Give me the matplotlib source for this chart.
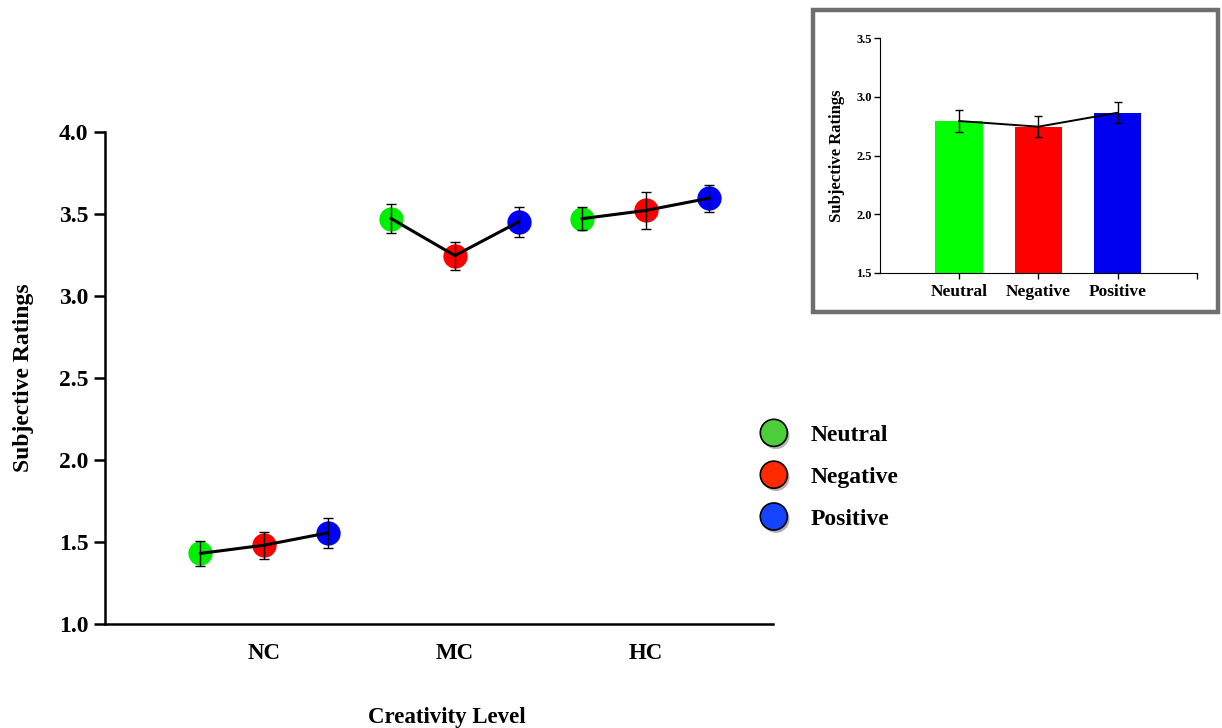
"""Subjective ratings by creativity level and emotion."""

import matplotlib.pyplot as plt
import matplotlib.patheffects as pe
import numpy as np
from matplotlib.lines import Line2D
from matplotlib.patches import Rectangle

plt.rcParams["font.family"] = "Liberation Serif"
plt.rcParams["font.weight"] = "bold"

# main panel data
levels = ["NC", "MC", "HC"]
emotions = ["Neutral", "Negative", "Positive"]
means = [
    [1.43, 1.48, 1.555],  # NC
    [3.47, 3.245, 3.45],  # MC
    [3.47, 3.52, 3.595],  # HC
]
sems = [
    [0.076, 0.083, 0.09],
    [0.09, 0.085, 0.09],
    [0.07, 0.11, 0.083],
]

# inset data (collapsed over creativity level)
inset_means = [2.794, 2.746, 2.865]
inset_sems = [0.09, 0.088, 0.09]

point_colors = ["#00ee00", "#ff0000", "#0000ff"]
bar_colors = ["#00ff00", "#ff0000", "#0000f0"]
legend_colors = ["#4ccd3a", "#ff2a00", "#1444ff"]

fig = plt.figure(figsize=(12.22, 7.28), dpi=100)

# main axes
ax = fig.add_axes([0.0859, 0.1429, 0.5467, 0.6762])
for g, level in enumerate(levels):
    xs = np.arange(3) + 3 * g
    for k in range(3):
        ax.plot(xs[k], means[g][k], "o", ms=17.5, color=point_colors[k],
                mec="none", zorder=2)
    ax.plot(xs, means[g], color="black", lw=2.2, zorder=3)
    ax.errorbar(xs, means[g], yerr=sems[g], fmt="none", ecolor="black",
                elinewidth=1.0, capsize=3.3, capthick=1.0, zorder=4)

ax.set_xlim(-1.5, 9)
ax.set_ylim(1.0, 4.0)
ax.set_yticks([1.0, 1.5, 2.0, 2.5, 3.0, 3.5, 4.0])
ax.set_yticklabels([f"{v:.1f}" for v in [1.0, 1.5, 2.0, 2.5, 3.0, 3.5, 4.0]])
ax.set_xticks([1, 4, 7])
ax.set_xticklabels(levels)
ax.tick_params(axis="x", length=0, pad=14, labelsize=16.5)
ax.tick_params(axis="y", length=8, width=1.8, pad=4, labelsize=17)
for s in ["top", "right"]:
    ax.spines[s].set_visible(False)
for s in ["left", "bottom"]:
    ax.spines[s].set_linewidth(1.8)
ax.set_ylabel("Subjective Ratings", fontsize=17, fontweight="bold", labelpad=18)
ax.set_xlabel("Creativity Level", fontsize=16.5, fontweight="bold", labelpad=31,
              x=0.512)

# legend
shadow = [pe.SimplePatchShadow(offset=(1.5, -2), alpha=0.35), pe.Normal()]
handles = [
    Line2D([], [], ls="none", marker="o", ms=19.5, mfc=c, mec="black", mew=1.2,
           path_effects=shadow)
    for c in legend_colors
]
fig.legend(handles, emotions, loc="upper left", bbox_to_anchor=(0.612, 0.433),
           frameon=False, fontsize=17, labelspacing=0.86, handletextpad=0.95,
           handlelength=1.2, borderpad=0)

# inset frame
box = Rectangle((813 / 1222, 1 - 312 / 728), 405 / 1222, 302 / 728,
                transform=fig.transFigure, fill=False, edgecolor="#6e6e6e",
                lw=3.2, zorder=0)
fig.patches.append(box)

axin = fig.add_axes([0.7201, 0.6254, 0.2594, 0.322])
xi = np.arange(3)
axin.bar(xi, inset_means, width=0.6, color=bar_colors, zorder=1)
axin.plot(xi, inset_means, color="black", lw=1.4, zorder=3)
axin.errorbar(xi, inset_means, yerr=inset_sems, fmt="none", ecolor="black",
              elinewidth=1.0, capsize=3.0, capthick=1.0, zorder=4)
axin.set_xlim(-1, 3)
axin.set_ylim(1.5, 3.5)
axin.set_yticks([1.5, 2.0, 2.5, 3.0, 3.5])
axin.set_yticklabels([f"{v:.1f}" for v in [1.5, 2.0, 2.5, 3.0, 3.5]])
axin.set_xticks([0, 1, 2, 3])
axin.set_xticklabels(emotions + [""])
axin.tick_params(axis="x", length=4, width=1.0, pad=4, labelsize=12.5)
axin.tick_params(axis="y", length=4, width=1.0, pad=2, labelsize=9)
for s in ["top", "right"]:
    axin.spines[s].set_visible(False)
axin.set_ylabel("Subjective Ratings", fontsize=12, fontweight="bold", labelpad=8)

fig.savefig("out.png", dpi=100)
